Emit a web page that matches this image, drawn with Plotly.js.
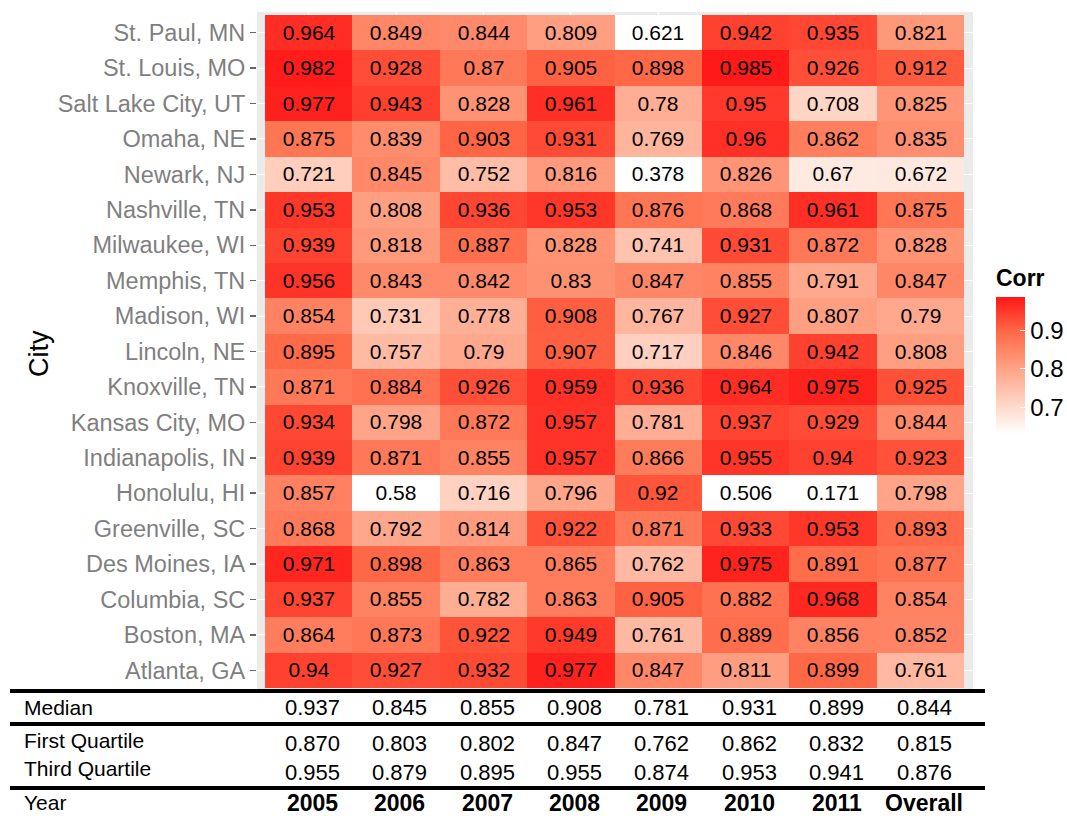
<!DOCTYPE html>
<html>
<head>
<meta charset="utf-8">
<script src="https://cdn.plot.ly/plotly-3.0.1.min.js"></script>
<style>html,body{margin:0;padding:0;background:#fff;}#chart{width:1067px;height:816px;}</style>
</head>
<body>
<div id="chart"></div>
<script>
// Cities, top to bottom
const cities = ["St. Paul, MN","St. Louis, MO","Salt Lake City, UT","Omaha, NE","Newark, NJ","Nashville, TN","Milwaukee, WI","Memphis, TN","Madison, WI","Lincoln, NE","Knoxville, TN","Kansas City, MO","Indianapolis, IN","Honolulu, HI","Greenville, SC","Des Moines, IA","Columbia, SC","Boston, MA","Atlanta, GA"];
const years = ["2005","2006","2007","2008","2009","2010","2011","Overall"];

// Correlation values per year column (city order as above)
const c2005 = [0.964,0.982,0.977,0.875,0.721,0.953,0.939,0.956,0.854,0.895,0.871,0.934,0.939,0.857,0.868,0.971,0.937,0.864,0.94];
const c2006 = [0.849,0.928,0.943,0.839,0.845,0.808,0.818,0.843,0.731,0.757,0.884,0.798,0.871,0.58,0.792,0.898,0.855,0.873,0.927];
const c2007 = [0.844,0.87,0.828,0.903,0.752,0.936,0.887,0.842,0.778,0.79,0.926,0.872,0.855,0.716,0.814,0.863,0.782,0.922,0.932];
const c2008 = [0.809,0.905,0.961,0.931,0.816,0.953,0.828,0.83,0.908,0.907,0.959,0.957,0.957,0.796,0.922,0.865,0.863,0.949,0.977];
const c2009 = [0.621,0.898,0.78,0.769,0.378,0.876,0.741,0.847,0.767,0.717,0.936,0.781,0.866,0.92,0.871,0.762,0.905,0.761,0.847];
const c2010 = [0.942,0.985,0.95,0.96,0.826,0.868,0.931,0.855,0.927,0.846,0.964,0.937,0.955,0.506,0.933,0.975,0.882,0.889,0.811];
const c2011 = [0.935,0.926,0.708,0.862,0.67,0.961,0.872,0.791,0.807,0.942,0.975,0.929,0.94,0.171,0.953,0.891,0.968,0.856,0.899];
const cOverall = [0.821,0.912,0.825,0.835,0.672,0.875,0.828,0.847,0.79,0.808,0.925,0.844,0.923,0.798,0.893,0.877,0.854,0.852,0.761];

// Summary table
const median = ["0.937","0.845","0.855","0.908","0.781","0.931","0.899","0.844"];
const firstQuartile = ["0.870","0.803","0.802","0.847","0.762","0.862","0.832","0.815"];
const thirdQuartile = ["0.955","0.879","0.895","0.955","0.874","0.953","0.941","0.876"];

const cols = [c2005,c2006,c2007,c2008,c2009,c2010,c2011,cOverall];
const z = cities.map((c,i)=>cols.map(col=>col[i]));
const txt = z.map(r=>r.map(v=>String(v)));

const FONT = "Liberation Sans, Arial, sans-serif";
const NARROW = "Liberation Sans Narrow, Arial Narrow, Liberation Sans, sans-serif";

function py(Y){ return (690 - Y)/678; }
function px(X){ return (X - 257)/716; }

const heat = {
  type:'heatmap', x: years, y: cities, z: z, text: txt,
  texttemplate:'%{text}', textfont:{family:FONT,size:21,color:'#000'},
  zmin:0.63, zmax:0.988,
  colorscale:[[0,'#ffffff'],[0.25,'#ffcfbe'],[0.5,'#ff9e81'],[0.75,'#ff6846'],[1,'#ff1717']],
  hoverinfo:'skip',
  colorbar:{
    title:{text:'<b>Corr</b>', side:'top', font:{family:FONT,size:23,color:'#000'}},
    thickness:29, thicknessmode:'pixels', len:168, lenmode:'pixels',
    x:px(996), xanchor:'left', y:py(434), yanchor:'bottom',
    outlinewidth:0, ticks:'inside', ticklen:5, tickcolor:'#ffffff',
    tickvals:[0.7,0.8,0.9], ticktext:['0.7','0.8','0.9'],
    tickfont:{family:FONT,size:24,color:'#000'}, xpad:0, ypad:0
  }
};

const ann = [];
function rowAnn(label, vals, yl, yv, bold){
  ann.push({xref:'paper', yref:'paper', x:px(22), y:py(yl), xanchor:'left', yanchor:'middle',
    text:label, showarrow:false, font:{family:NARROW,size:21,color:'#000'}});
  vals.forEach((v,i)=>{
    ann.push({xref:'x', yref:'paper', x:i+0.04, y:py(yv), xanchor:'center', yanchor:'middle',
      text: bold ? '<b>'+v+'</b>' : v, showarrow:false,
      font:{family:NARROW,size:bold?23:22,color:'#000'}});
  });
}
rowAnn('Median', median, 707, 707, false);
rowAnn('First Quartile', firstQuartile, 740, 743, false);
rowAnn('Third Quartile', thirdQuartile, 768, 772, false);
rowAnn('Year', years, 802, 803, true);

ann.push({xref:'paper', yref:'paper', x:px(39), y:py(354), xanchor:'center', yanchor:'middle',
  text:'City', textangle:-90, showarrow:false, font:{family:FONT,size:27,color:'#000'}});

const shapes = [691, 724, 788].map(Y=>({type:'line', xref:'paper', yref:'paper',
  x0:px(10), x1:px(985), y0:py(Y), y1:py(Y), line:{color:'#000', width:4}}));

const layout = {
  width:1067, height:816,
  margin:{l:257, r:94, t:12, b:126, autoexpand:false},
  paper_bgcolor:'#ffffff', plot_bgcolor:'#ebebeb',
  font:{family:FONT},
  xaxis:{type:'category', range:[-0.592,7.6], showgrid:true, gridcolor:'#ffffff', gridwidth:1,
    showticklabels:false, ticks:'', zeroline:false, showline:false, fixedrange:true},
  yaxis:{type:'category', categoryorder:'array', categoryarray:cities, range:[18.556,-0.585],
    showgrid:true, gridcolor:'#ffffff', gridwidth:1, zeroline:false, showline:false,
    ticks:'outside', ticklen:6, tickcolor:'#666', tickwidth:1.5,
    tickfont:{family:FONT,size:23.5,color:'#7f7f7f'}},
  annotations: ann,
  shapes: shapes,
  showlegend:false
};

Plotly.newPlot('chart',[heat],layout,{displayModeBar:false, staticPlot:true});
</script>
</body>
</html>
